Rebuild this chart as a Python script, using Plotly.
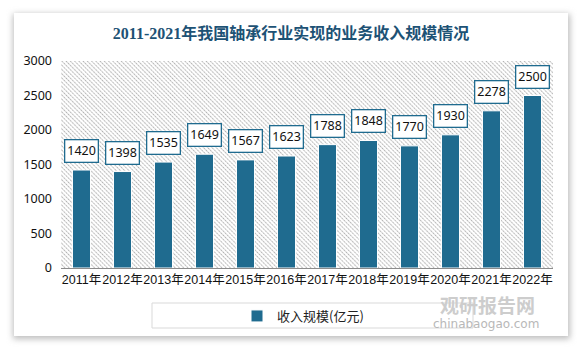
import plotly.graph_objects as go
import urllib.parse

years = ["2011年", "2012年", "2013年", "2014年", "2015年", "2016年",
         "2017年", "2018年", "2019年", "2020年", "2021年", "2022年"]
revenue = [1420, 1398, 1535, 1649, 1567, 1623, 1788, 1848, 1770, 1930, 2278, 2500]
y_ticks = [0, 500, 1000, 1500, 2000, 2500, 3000]

title_text = "2011-2021年我国轴承行业实现的业务收入规模情况"
series_name = "收入规模(亿元)"

BAR = "#1f6b8f"
TITLE = "#1d5275"
W, H = 583, 349
L, R, T, B = 61, 30, 61, 81
pw = W - L - R
ph = H - T - B

fig = go.Figure()
fig.add_trace(go.Bar(
    x=years, y=revenue, name=series_name,
    marker=dict(color=BAR, line=dict(color="white", width=1)),
    width=0.44,
))

# data labels in bordered boxes
for xv, yv in zip(years, revenue):
    fig.add_annotation(
        x=xv, y=yv, text=str(yv), showarrow=False,
        yanchor="bottom", yshift=7,
        font=dict(family="Noto Sans, Liberation Sans, sans-serif", size=12.5, color="#111"),
        bgcolor="white", bordercolor=BAR, borderwidth=1.3, borderpad=2,
    )

# background: card with shadow + striped plot area (one inline SVG covering the page)
svg = (
    f"<svg xmlns='http://www.w3.org/2000/svg' width='{W}' height='{H}' viewBox='0 0 {W} {H}'>"
    "<defs>"
    "<filter id='s' x='-10%' y='-10%' width='120%' height='120%'><feGaussianBlur stdDeviation='3'/></filter>"
    "<pattern id='p' width='3' height='3' patternUnits='userSpaceOnUse' patternTransform='rotate(-45)'>"
    "<line x1='0.5' y1='0' x2='0.5' y2='3' stroke='#b0b0b0' stroke-width='1.1' stroke-dasharray='1,0.5'/>"
    "</pattern></defs>"
    f"<rect width='{W}' height='{H}' fill='white'/>"
    "<rect x='13' y='14' width='557' height='325' fill='#bdbdbd' filter='url(#s)'/>"
    "<rect x='14' y='13' width='554' height='323' fill='white'/>"
    f"<rect x='{L}' y='{T}' width='{pw}' height='{ph}' fill='url(#p)'/>"
    "</svg>"
)
src = "data:image/svg+xml;charset=utf-8," + urllib.parse.quote(svg)
fig.add_layout_image(dict(source=src, xref="paper", yref="paper",
                          x=-L / pw, y=1 + T / ph, sizex=W / pw, sizey=H / ph,
                          xanchor="left", yanchor="top", sizing="stretch", layer="below"))

def px(x):
    return (x - L) / pw
def py(y):
    return (H - B - y) / ph

# legend box
fig.add_shape(type="rect", xref="paper", yref="paper",
              x0=px(152), x1=px(473), y0=py(328), y1=py(303),
              fillcolor="rgba(0,0,0,0)", line=dict(color="#d9d9d9", width=1))

# watermark
fig.add_annotation(xref="paper", yref="paper", x=px(487), y=py(304), text="<b>观研报告网</b>",
                   showarrow=False, font=dict(family="Noto Sans CJK SC", size=19, color="#cdcdcd"),
                   xanchor="center", yanchor="middle")
fig.add_annotation(xref="paper", yref="paper", x=px(486), y=py(324), text="chinabaogao.com",
                   showarrow=False, font=dict(family="DejaVu Sans, sans-serif", size=12, color="#b8b8b8"),
                   xanchor="center", yanchor="middle")

fig.update_layout(
    width=W, height=H,
    margin=dict(l=L, r=R, t=T, b=B),
    paper_bgcolor="white", plot_bgcolor="rgba(0,0,0,0)",
    title=dict(text=f"<b>{title_text}</b>", x=291 / W, xanchor="center", xref="container",
               y=1 - 33 / H, yanchor="middle",
               font=dict(family="Liberation Serif, Noto Sans CJK SC, serif", size=16, color=TITLE)),
    showlegend=True,
    legend=dict(orientation="h", x=px(303), y=py(316), xanchor="center", yanchor="middle",
                bgcolor="rgba(0,0,0,0)", itemwidth=30,
                font=dict(family="Noto Sans CJK SC", size=13, color="#222")),
)
fig.update_xaxes(showline=True, linecolor="#8c8c8c", linewidth=1, ticks="", tickangle=0,
                 tickfont=dict(family="Liberation Sans, Noto Sans CJK SC, sans-serif", size=12.5, color="#111"),
                 showgrid=False, range=[-0.5, len(years) - 0.5])
fig.update_yaxes(range=[0, 3000], tickvals=y_ticks, showgrid=False, zeroline=False,
                 showline=False, ticklabelstandoff=8,
                 tickfont=dict(family="Noto Sans, Liberation Sans, sans-serif", size=12.5, color="#111"))

fig.write_html("out.html")
